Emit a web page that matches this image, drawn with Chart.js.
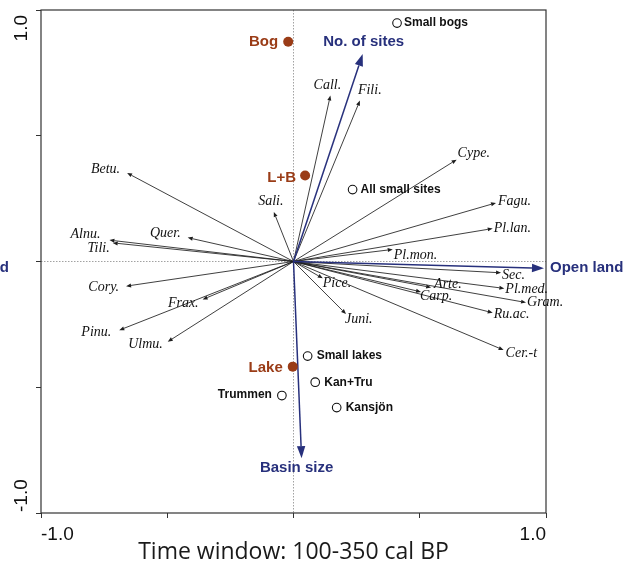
<!DOCTYPE html>
<html lang="en">
<head>
    <meta charset="UTF-8">
    <title>Time window: 100-350 cal BP</title>
    <script src="https://cdn.jsdelivr.net/npm/chart.js"></script>
    <style>
        body { margin: 0; background: #fff; }
    </style>
</head>
<body>
    <canvas id="rdaChart" width="629" height="571"></canvas>

    <script>
        // pollen taxa (arrow tips)
        const taxa = ['Call.', 'Fili.', 'Cype.', 'Fagu.', 'Pl.lan.', 'Pl.mon.', 'Sec.', 'Pl.med.', 'Gram.', 'Arte.', 'Carp.', 'Ru.ac.', 'Cer.-t', 'Pice.', 'Juni.', 'Betu.', 'Sali.', 'Quer.', 'Alnu.', 'Tili.', 'Cory.', 'Frax.', 'Pinu.', 'Ulmu.'];
        const taxaX = [0.146, 0.263, 0.646, 0.802, 0.789, 0.393, 0.822, 0.835, 0.921, 0.545, 0.505, 0.789, 0.832, 0.116, 0.208, -0.659, -0.078, -0.419, -0.729, -0.716, -0.663, -0.360, -0.690, -0.498];
        const taxaY = [0.660, 0.640, 0.405, 0.233, 0.131, 0.048, -0.045, -0.107, -0.163, -0.103, -0.121, -0.204, -0.352, -0.067, -0.209, 0.352, 0.197, 0.095, 0.085, 0.074, -0.098, -0.151, -0.273, -0.319];

        // environmental variables
        const envNames = ['No. of sites', 'Basin size', 'Open land'];
        const envX = [0.274, 0.032, 0.992];
        const envY = [0.825, -0.782, -0.027];

        // site types (filled) and sites (open)
        const typeNames = ['Bog', 'L+B', 'Lake'];
        const typeX = [-0.021, 0.046, -0.003];
        const typeY = [0.874, 0.342, -0.418];

        const siteNames = ['Small bogs', 'All small sites', 'Small lakes', 'Kan+Tru', 'Kansjön', 'Trummen'];
        const siteX = [0.410, 0.234, 0.056, 0.086, 0.171, -0.046];
        const siteY = [0.948, 0.286, -0.376, -0.480, -0.581, -0.533];

        const axisTicks = [-1, -0.5, 0, 0.5, 1];

        // label placement in px relative to the mark: [dx, dy, align]
        const labelPos = {
            'Call.': [-3, -10, 'center'], 'Fili.': [-2, -10, 'left'], 'Cype.': [1, -6, 'left'],
            'Fagu.': [2, -2, 'left'], 'Pl.lan.': [1, 0, 'left'], 'Pl.mon.': [1, 6, 'left'],
            'Sec.': [1, 2, 'left'], 'Pl.med.': [1, 1, 'left'], 'Gram.': [1, 0, 'left'],
            'Arte.': [3, -3, 'left'], 'Carp.': [-1, 4, 'left'], 'Ru.ac.': [1, 2, 'left'],
            'Cer.-t': [2, 3, 'left'], 'Pice.': [0, 5, 'left'], 'Juni.': [-1, 5, 'left'],
            'Betu.': [-7, -4, 'right'], 'Sali.': [-3, -11, 'center'], 'Quer.': [-7, -4, 'right'],
            'Alnu.': [-9, -6, 'right'], 'Tili.': [-3, 5, 'right'], 'Cory.': [-7, 1, 'right'],
            'Frax.': [-4, 4, 'right'], 'Pinu.': [-8, 2, 'right'], 'Ulmu.': [-5, 3, 'right'],
            'No. of sites': [1, -12, 'center'], 'Basin size': [-5, 10, 'center'], 'Open land': [6, 0, 'left'],
            'Bog': [-10, 0, 'right'], 'L+B': [-9, 2, 'right'], 'Lake': [-10, 1, 'right'],
            'Small bogs': [7, 0, 'left'], 'All small sites': [8, 0, 'left'], 'Small lakes': [9, 0, 'left'],
            'Kan+Tru': [9, 0, 'left'], 'Kansjön': [9, 0, 'left'], 'Trummen': [-10, -1, 'right']
        };

        const NAVY = '#27307c';
        const BROWN = '#9a3c17';

        function arrow(ctx, x0, y0, x1, y1, color, width, headLen, headHalf) {
            const a = Math.atan2(y1 - y0, x1 - x0);
            const bx = x1 - headLen * Math.cos(a);
            const by = y1 - headLen * Math.sin(a);
            ctx.strokeStyle = color;
            ctx.lineWidth = width;
            ctx.beginPath();
            ctx.moveTo(x0, y0);
            ctx.lineTo(bx, by);
            ctx.stroke();
            ctx.fillStyle = color;
            ctx.beginPath();
            ctx.moveTo(x1, y1);
            ctx.lineTo(bx + headHalf * Math.sin(a), by - headHalf * Math.cos(a));
            ctx.lineTo(bx - headHalf * Math.sin(a), by + headHalf * Math.cos(a));
            ctx.closePath();
            ctx.fill();
        }

        function label(ctx, text, px, py, font, color) {
            const p = labelPos[text] || [0, 0, 'left'];
            ctx.font = font;
            ctx.fillStyle = color;
            ctx.textAlign = p[2];
            ctx.textBaseline = 'middle';
            ctx.fillText(text, px + p[0], py + p[1]);
        }

        const biplot = {
            id: 'biplot',
            beforeDatasetsDraw(chart) {
                const { ctx, chartArea: a, scales: { x, y } } = chart;
                const ox = x.getPixelForValue(0);
                const oy = y.getPixelForValue(0);
                ctx.save();
                // dotted zero lines
                ctx.strokeStyle = '#8a8a8a';
                ctx.lineWidth = 0.8;
                ctx.setLineDash([1.5, 1.5]);
                ctx.beginPath();
                ctx.moveTo(ox, a.top); ctx.lineTo(ox, a.bottom);
                ctx.moveTo(a.left, oy); ctx.lineTo(a.right, oy);
                ctx.stroke();
                ctx.setLineDash([]);

                // frame
                ctx.strokeStyle = '#333';
                ctx.lineWidth = 1.2;
                ctx.strokeRect(a.left, a.top, a.right - a.left, a.bottom - a.top);

                // taxa arrows
                taxa.forEach((t, i) => {
                    const px = x.getPixelForValue(taxaX[i]);
                    const py = y.getPixelForValue(taxaY[i]);
                    arrow(ctx, ox, oy, px, py, '#1e1e1e', 0.85, 5, 2);
                });
                // environmental arrows
                envNames.forEach((t, i) => {
                    const px = x.getPixelForValue(envX[i]);
                    const py = y.getPixelForValue(envY[i]);
                    arrow(ctx, ox, oy, px, py, NAVY, 1.5, 12, 4.2);
                });

                // y tick labels, rotated
                ctx.font = '19px "Liberation Sans", Arial, sans-serif';
                ctx.fillStyle = '#111';
                ctx.textBaseline = 'middle';
                ctx.translate(22, 0);
                ctx.rotate(-Math.PI / 2);
                ctx.textAlign = 'right';
                ctx.fillText('1.0', -(y.getPixelForValue(1) + 5), 0);
                ctx.textAlign = 'left';
                ctx.fillText('-1.0', -(y.getPixelForValue(-1) - 1), 0);
                ctx.restore();
            },
            afterDatasetsDraw(chart) {
                const { ctx, scales: { x, y } } = chart;
                ctx.save();
                const serif = 'italic 14px "Liberation Serif", "Times New Roman", serif';
                taxa.forEach((t, i) => {
                    label(ctx, t, x.getPixelForValue(taxaX[i]), y.getPixelForValue(taxaY[i]), serif, '#111');
                });
                const bold15 = 'bold 15px "Liberation Sans", Arial, sans-serif';
                envNames.forEach((t, i) => {
                    label(ctx, t, x.getPixelForValue(envX[i]), y.getPixelForValue(envY[i]), bold15, NAVY);
                });
                // opposite end of the open land gradient, cut by the page edge
                ctx.font = bold15;
                ctx.fillStyle = NAVY;
                ctx.textAlign = 'right';
                ctx.fillText('Wooded land', 9, y.getPixelForValue(envY[2]));

                typeNames.forEach((t, i) => {
                    label(ctx, t, x.getPixelForValue(typeX[i]), y.getPixelForValue(typeY[i]), bold15, BROWN);
                });
                const bold12 = 'bold 12px "Liberation Sans", Arial, sans-serif';
                siteNames.forEach((t, i) => {
                    label(ctx, t, x.getPixelForValue(siteX[i]), y.getPixelForValue(siteY[i]), bold12, '#111');
                });
                ctx.restore();
            }
        };

        const ctx = document.getElementById('rdaChart').getContext('2d');
        new Chart(ctx, {
            type: 'scatter',
            data: {
                datasets: [{
                    label: 'Site type',
                    data: typeNames.map((n, i) => ({ x: typeX[i], y: typeY[i] })),
                    backgroundColor: BROWN,
                    borderColor: BROWN,
                    pointRadius: 5,
                    borderWidth: 0
                }, {
                    label: 'Sites',
                    data: siteNames.map((n, i) => ({ x: siteX[i], y: siteY[i] })),
                    backgroundColor: '#fff',
                    borderColor: '#111',
                    pointRadius: 4.3,
                    borderWidth: 1.1
                }]
            },
            options: {
                responsive: false,
                animation: false,
                layout: {
                    padding: { top: 10, right: 83, left: 0, bottom: 0 }
                },
                scales: {
                    x: {
                        type: 'linear',
                        min: -1,
                        max: 1,
                        afterBuildTicks: s => { s.ticks = axisTicks.map(v => ({ value: v })); },
                        afterFit: s => { s.height = 58; },
                        border: { display: false },
                        grid: {
                            drawOnChartArea: false,
                            tickLength: 5,
                            tickColor: '#333',
                            tickWidth: 1
                        },
                        ticks: {
                            autoSkip: false,
                            maxRotation: 0,
                            align: 'inner',
                            padding: 5,
                            color: '#111',
                            font: { family: '"Liberation Sans", Arial, sans-serif', size: 19 },
                            callback: v => v === -1 ? '-1.0' : (v === 1 ? '1.0' : '')
                        },
                        title: {
                            display: true,
                            text: 'Time window: 100-350 cal BP',
                            color: '#1a1a1a',
                            font: { family: '"Open Sans", sans-serif', size: 23 },
                            padding: { top: 0, bottom: 5 }
                        }
                    },
                    y: {
                        type: 'linear',
                        min: -1,
                        max: 1,
                        afterBuildTicks: s => { s.ticks = axisTicks.map(v => ({ value: v })); },
                        afterFit: s => { s.width = 41; },
                        border: { display: false },
                        grid: {
                            drawOnChartArea: false,
                            tickLength: 5,
                            tickColor: '#333',
                            tickWidth: 1
                        },
                        ticks: { display: false }
                    }
                },
                plugins: {
                    legend: { display: false },
                    tooltip: { enabled: false }
                }
            },
            plugins: [biplot]
        });
    </script>
</body>
</html>
